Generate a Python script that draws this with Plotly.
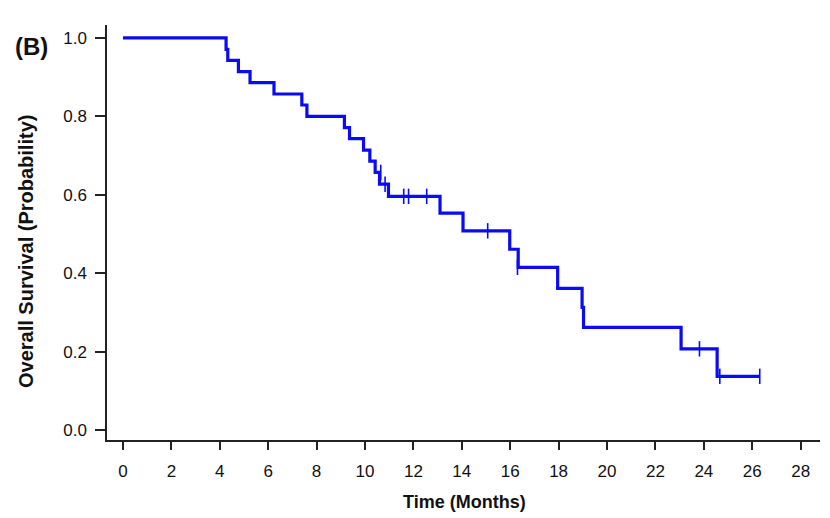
import plotly.graph_objects as go

# Kaplan-Meier step data (months, survival probability)
event_times = [0, 4.26, 4.33, 4.77, 5.25, 6.24, 7.39, 7.6, 9.15, 9.36, 9.94, 10.2,
               10.42, 10.6, 10.97, 13.1, 14.05, 15.98, 16.33, 17.96, 18.97, 19.03,
               23.06, 24.55, 26.31]
survival = [1.0, 0.971, 0.943, 0.914, 0.886, 0.857, 0.829, 0.800, 0.771, 0.743, 0.714,
            0.686, 0.657, 0.627, 0.596, 0.553, 0.508, 0.461, 0.415, 0.361, 0.313,
            0.262, 0.207, 0.137, 0.137]

censor_times = [10.65, 10.83, 11.6, 11.8, 12.55, 15.07, 16.3, 23.82, 24.66, 26.31]
censor_surv = [0.657, 0.627, 0.596, 0.596, 0.596, 0.508, 0.415, 0.207, 0.137, 0.137]

x_ticks = list(range(0, 29, 2))
y_ticks = [0.0, 0.2, 0.4, 0.6, 0.8, 1.0]

blue = "#0a0af5"
fig = go.Figure()
fig.add_trace(go.Scatter(x=event_times, y=survival, mode="lines",
                         line=dict(color=blue, width=3.2, shape="hv"),
                         showlegend=False, hoverinfo="skip"))
fig.add_trace(go.Scatter(x=censor_times, y=censor_surv, mode="markers",
                         marker=dict(symbol="line-ns", size=11,
                                     line=dict(color=blue, width=1.6)),
                         showlegend=False))

axis_font = "Liberation Sans, Arial, sans-serif"
fig.update_layout(
    width=822, height=510,
    margin=dict(l=99, r=10, t=17, b=78),
    paper_bgcolor="white", plot_bgcolor="white",
    font=dict(family=axis_font, color="#111"),
    xaxis=dict(range=[-0.66, 28.8], tickvals=x_ticks, ticktext=[str(v) for v in x_ticks],
               showgrid=False, zeroline=False, showline=True, linecolor="#222",
               linewidth=1.5, ticks="outside", ticklen=8, tickwidth=1.5, tickcolor="#222",
               tickfont=dict(size=17), ticklabelstandoff=7),
    yaxis=dict(range=[-0.0255, 1.033], tickvals=y_ticks,
               ticktext=[f"{v:.1f}" for v in y_ticks],
               showgrid=False, zeroline=False, showline=True, linecolor="#222",
               linewidth=1.5, ticks="outside", ticklen=10, tickwidth=1.5, tickcolor="#222",
               tickfont=dict(size=17), ticklabelstandoff=5),
    annotations=[
        dict(text="<b>(B)</b>", xref="paper", yref="paper", x=-0.1059, y=0.949,
             xanchor="center", yanchor="middle", showarrow=False,
             font=dict(size=24, color="#111")),
        dict(text="<b>Time (Months)</b>", xref="paper", yref="paper", x=0.5017, y=-0.1487,
             xanchor="center", yanchor="middle", showarrow=False,
             font=dict(size=18, color="#111")),
        dict(text="<b>Overall Survival (Probability)</b>", xref="paper", yref="paper",
             x=-0.1136, y=0.453, xanchor="center", yanchor="middle", textangle=-90,
             showarrow=False, font=dict(size=20, color="#111")),
    ],
)

fig.write_html("out.html")
